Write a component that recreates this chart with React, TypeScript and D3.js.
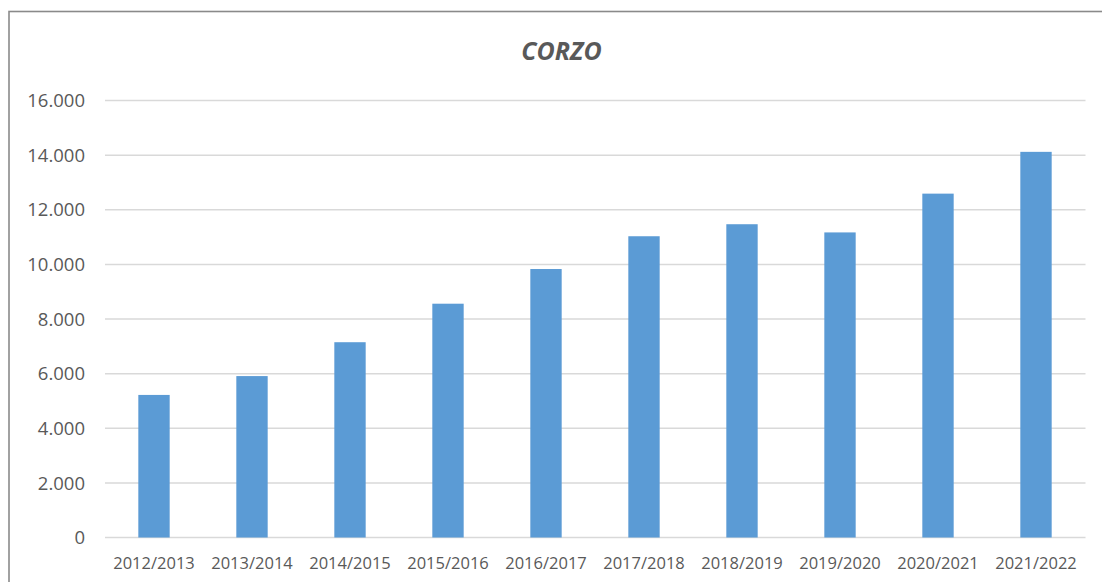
import React from "react";
import * as d3 from "d3";

const categories = [
  "2012/2013",
  "2013/2014",
  "2014/2015",
  "2015/2016",
  "2016/2017",
  "2017/2018",
  "2018/2019",
  "2019/2020",
  "2020/2021",
  "2021/2022",
];
const values = [5220, 5910, 7150, 8560, 9830, 11030, 11470, 11170, 12590, 14120];
const yTicks = [0, 2000, 4000, 6000, 8000, 10000, 12000, 14000, 16000];
const title = "CORZO";

const W = 1102;
const H = 582;
const FONT = "'Open Sans', 'Liberation Sans', sans-serif";

export default function App() {
  const x = d3
    .scaleBand<string>()
    .domain(categories)
    .range([105, 1085])
    .paddingInner(0.68)
    .paddingOuter(0.34);
  const y = d3.scaleLinear().domain([0, 16000]).range([537.5, 100.5]);
  const fmt = (v: number) => d3.format(",")(v).replace(/,/g, ".");

  return (
    <div style={{ position: "absolute", left: 0, top: 0 }}>
      <svg width={W} height={H} style={{ display: "block", background: "#fff" }}>
        <rect x={9} y={11.5} width={1200} height={700} fill="#fff" stroke="#8a8a8a" strokeWidth={1.6} />
        <text
          x={561.5}
          y={60}
          textAnchor="middle"
          fontFamily={FONT}
          fontSize={25}
          fontWeight="bold"
          fontStyle="italic"
          fill="#595959"
        >
          {title}
        </text>
        {yTicks.map((t) => (
          <g key={t}>
            <line x1={105} x2={1085.5} y1={y(t)} y2={y(t)} stroke="#d9d9d9" strokeWidth={1.5} />
            <text
              x={85}
              y={y(t)}
              dy="0.36em"
              textAnchor="end"
              fontFamily={FONT}
              fontSize={18.5}
              fill="#595959"
            >
              {fmt(t)}
            </text>
          </g>
        ))}
        {categories.map((c, i) => (
          <rect
            key={c}
            x={x(c)}
            y={y(values[i])}
            width={x.bandwidth()}
            height={y(0) - y(values[i])}
            fill="#5b9bd5"
          />
        ))}
        {categories.map((c) => (
          <text
            key={c}
            x={(x(c) as number) + x.bandwidth() / 2}
            y={569}
            textAnchor="middle"
            fontFamily={FONT}
            fontSize={16.5}
            fill="#595959"
          >
            {c}
          </text>
        ))}
      </svg>
    </div>
  );
}
